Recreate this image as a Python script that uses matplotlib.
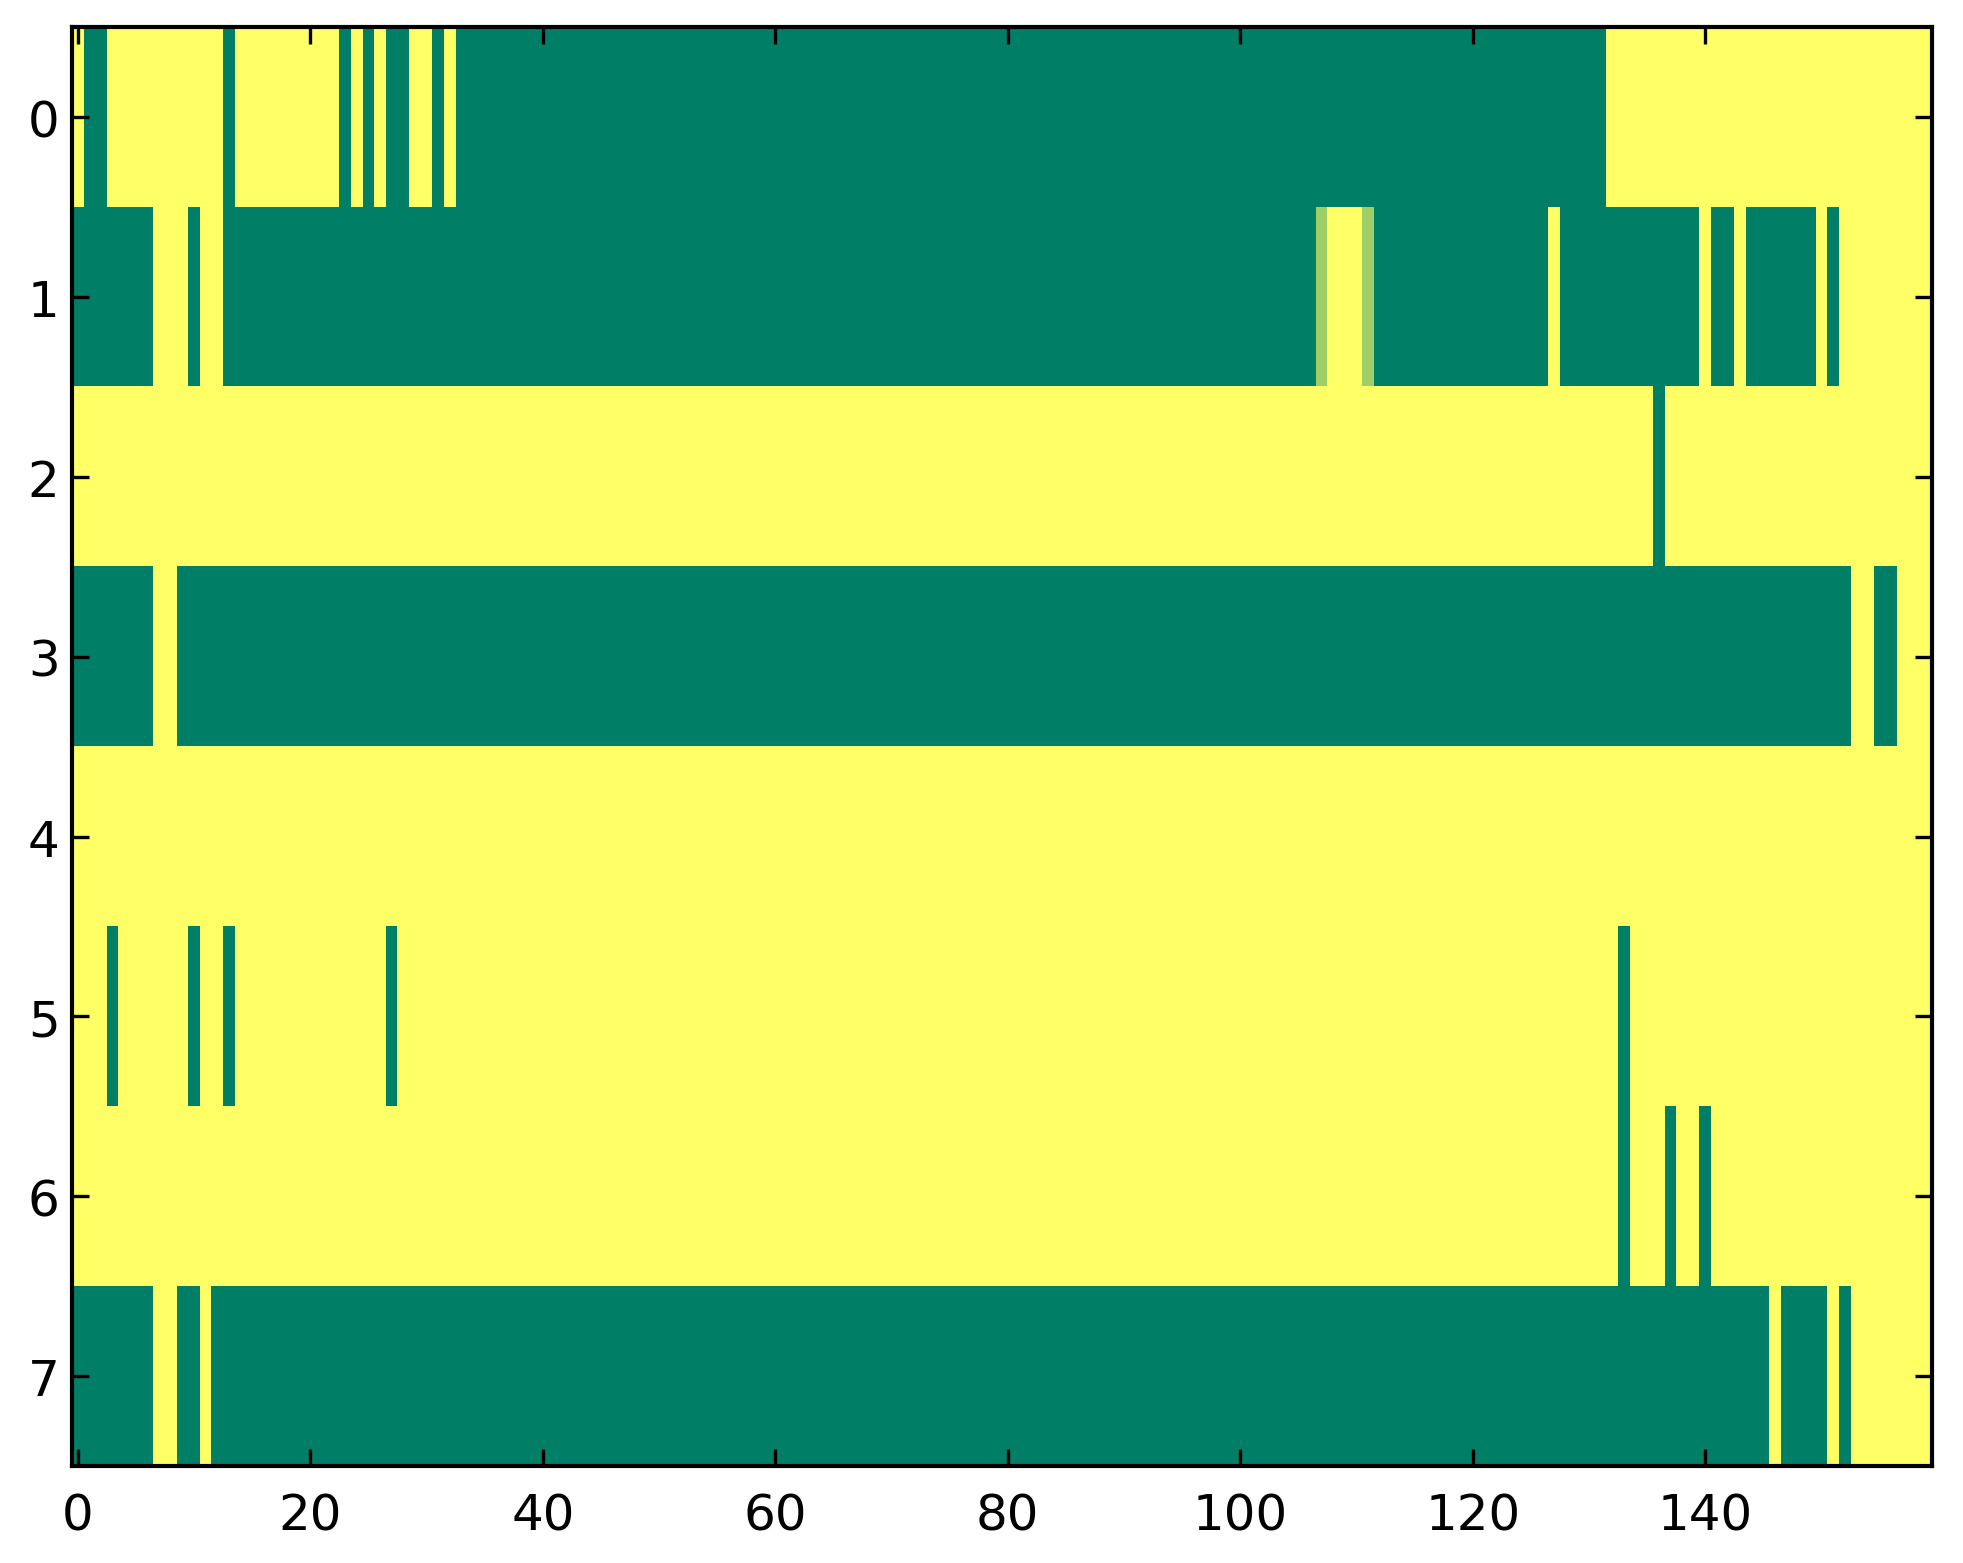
import numpy as np
import matplotlib
matplotlib.use('Agg')
import matplotlib.pyplot as plt

# run-length encoded rows: (value, count); 1 = yellow, 0 = green
row0 = [(1, 1), (0, 2), (1, 10), (0, 1), (1, 9), (0, 1), (1, 1), (0, 1), (1, 1),
        (0, 2), (1, 2), (0, 1), (1, 1), (0, 99), (1, 28)]
row1 = [(0, 7), (1, 3), (0, 1), (1, 2), (0, 94), (0.62, 1), (1, 3), (0.62, 1), (0, 15),
        (1, 1), (0, 12), (1, 1), (0, 2), (1, 1), (0, 6), (1, 1), (0, 1), (1, 8)]
row2 = [(1, 136), (0, 1), (1, 23)]
row3 = [(0, 7), (1, 2), (0, 144), (1, 2), (0, 2), (1, 3)]
row4 = [(1, 160)]
row5 = [(1, 3), (0, 1), (1, 6), (0, 1), (1, 2), (0, 1), (1, 13), (0, 1), (1, 105),
        (0, 1), (1, 26)]
row6 = [(1, 133), (0, 1), (1, 3), (0, 1), (1, 2), (0, 1), (1, 19)]
row7 = [(0, 7), (1, 2), (0, 2), (1, 1), (0, 134), (1, 1), (0, 4), (1, 1), (0, 1), (1, 7)]

rows = [row0, row1, row2, row3, row4, row5, row6, row7]
xticks = [0, 20, 40, 60, 80, 100, 120, 140]


def expand(runs):
    vals = [v for v, n in runs]
    counts = [n for v, n in runs]
    return np.repeat(vals, counts)


data = np.vstack([expand(r) for r in rows])

fig = plt.figure(figsize=(1963 / 300, 1564 / 300), dpi=300)
ax = fig.add_axes([0.0367, 0.062, 0.9475, 0.9198])
ax.imshow(data, cmap='summer', vmin=0, vmax=1, aspect='auto', interpolation='nearest')

ax.set_xticks(xticks)
ax.set_yticks(range(len(rows)))
ax.tick_params(direction='in', top=True, right=True, length=4, width=0.8,
               labelsize=12)
ax.tick_params(axis='x', pad=6)
ax.tick_params(axis='y', pad=3)
for s in ax.spines.values():
    s.set_linewidth(1.0)

fig.savefig('out.png', dpi=300)
